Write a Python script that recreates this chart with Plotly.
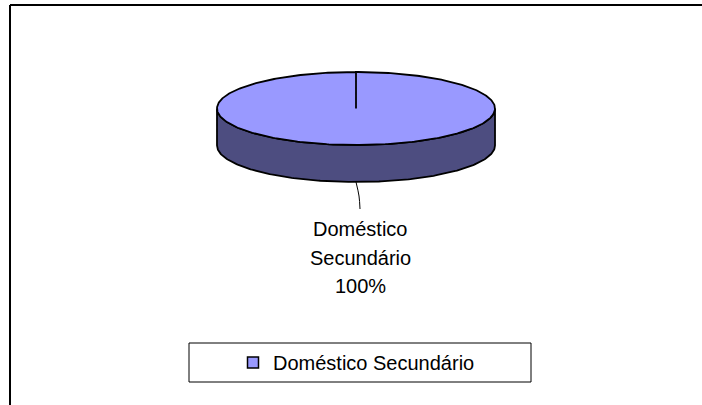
import numpy as np
import plotly.graph_objects as go

# ---- data ----
categories = ["Doméstico Secundário"]
values = [100.0]
slice_colors = ["#9999FF"]
side_colors = ["#4D4D80"]

# ---- geometry / style constants ----
W, H = 702, 405
CX, CY = 356.0, 108.5      # centre of top face (px)
RX, RY = 139.0, 36.5       # radii of top face (px)
DEPTH = 37.0               # thickness of the 3D pie (px)
START = 90.0               # first slice starts at 12 o'clock, clockwise
FONT = "Liberation Sans, Arial, sans-serif"

fig = go.Figure()

total = float(sum(values))
fracs = [v / total for v in values]

def pt(a_deg, dy=0.0):
    a = np.radians(a_deg)
    return CX + RX * np.cos(a), CY - RY * np.sin(a) + dy

ang = START
slices = []
for cat, f, col, scol in zip(categories, fracs, slice_colors, side_colors):
    a1, a2 = ang, ang - 360.0 * f
    slices.append((cat, f, col, a1, a2))
    ang = a2
    for shift in (0.0, -360.0, 360.0):
        lo, hi = -180.0 + shift, 0.0 + shift
        s_hi, s_lo = min(a1, hi), max(a2, lo)
        if s_hi > s_lo:
            t = np.linspace(s_hi, s_lo, 200)
            xs_top, ys_top = pt(t)
            xs_bot, ys_bot = pt(t[::-1], DEPTH)
            xs = np.concatenate([xs_top, xs_bot, xs_top[:1]])
            ys = np.concatenate([ys_top, ys_bot, ys_top[:1]])
            fig.add_trace(go.Scatter(x=xs, y=ys, mode="lines", fill="toself",
                                     fillcolor=scol, line=dict(color="black", width=1.8),
                                     hoverinfo="skip", showlegend=False))

for cat, f, col, a1, a2 in slices:
    t = np.linspace(a1, a2, 400)
    ax, ay = pt(t)
    xs = np.concatenate([[CX], ax, [CX]])
    ys = np.concatenate([[CY], ay, [CY]])
    fig.add_trace(go.Scatter(x=xs, y=ys, mode="lines", fill="toself",
                             fillcolor=col, line=dict(color="black", width=1.8),
                             hoverinfo="skip", showlegend=False))

for cat, f, col, a1, a2 in slices:
    mid = (a1 + a2) / 2.0
    lx, ly = pt(mid, DEPTH if np.sin(np.radians(mid)) < 0 else 0.0)
    ex, ey = lx + 4, ly + 27
    fig.add_trace(go.Scatter(x=[lx, lx + 3, ex], y=[ly, ly + 14, ey], mode="lines",
                             line=dict(color="black", width=1, shape="spline"),
                             hoverinfo="skip", showlegend=False))
    lines = cat.split(" ") + [f"{f * 100:.0f}%"]
    for i, txt in enumerate(lines):
        fig.add_annotation(x=ex, y=ey + 20 + i * 28.5, text=txt, showarrow=False,
                           xanchor="center", yanchor="middle",
                           font=dict(family=FONT, size=20, color="black"))

for cat, col in zip(categories, slice_colors):
    fig.add_trace(go.Scatter(x=[None], y=[None], mode="markers", name=cat,
                             marker=dict(symbol="square", size=11, color=col,
                                         line=dict(color="black", width=1.5))))

# chart-area border (top and left edges) and legend box, drawn in paper space
fig.add_shape(type="line", xref="paper", yref="paper",
              x0=10 / W, y0=1 - 5 / H, x1=1.02, y1=1 - 5 / H,
              line=dict(color="black", width=2), layer="below")
fig.add_shape(type="line", xref="paper", yref="paper",
              x0=10 / W, y0=1 - 5 / H, x1=10 / W, y1=-0.02,
              line=dict(color="black", width=2), layer="below")
fig.add_shape(type="rect", x0=189, y0=343, x1=531, y1=382,
              line=dict(color="black", width=1), layer="below")

fig.update_layout(
    width=W, height=H, autosize=False,
    margin=dict(l=0, r=0, t=0, b=0, pad=0),
    paper_bgcolor="white", plot_bgcolor="white",
    xaxis=dict(range=[0, W], visible=False, fixedrange=True, showline=False,
               zeroline=False, showgrid=False),
    yaxis=dict(range=[H, 0], visible=False, fixedrange=True, showline=False,
               zeroline=False, showgrid=False),
    showlegend=True,
    legend=dict(orientation="h", x=233 / W, xanchor="left",
                y=1 - 362.5 / H, yanchor="middle",
                bgcolor="rgba(0,0,0,0)", borderwidth=0,
                font=dict(family=FONT, size=20, color="black")),
)

fig.write_html("out.html", config={"displayModeBar": False},
               post_script="document.documentElement.style.overflow='hidden';"
                           "document.body.style.margin='0';document.body.style.overflow='hidden';")
